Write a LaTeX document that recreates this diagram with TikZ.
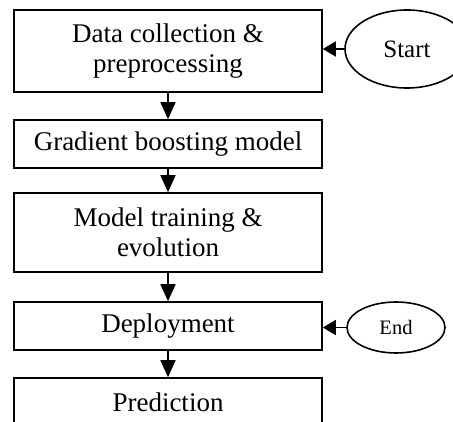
\documentclass[tikz,border=0pt]{standalone}
\usepackage{fontspec}
\setmainfont{Liberation Serif}
\usetikzlibrary{arrows.meta,shapes.geometric}
\begin{document}
\begin{tikzpicture}[x=1pt,y=-1pt,
  box/.style={draw, line width=1.6pt, minimum width=308pt, inner sep=0pt, align=center,
    font=\fontsize{27}{30}\selectfont},
  oval/.style={draw, ellipse, line width=1.6pt, inner sep=0pt},
  arr/.style={line width=1.6pt, -{Triangle[length=17pt,width=15pt]}},
  harr/.style={line width=1.6pt, -{Triangle[length=13pt,width=15pt]}}]
\useasboundingbox (0,0) rectangle (453,422);
\node[box, minimum height=82pt] (b1) at (168,51) {Data collection \&\\preprocessing};
\node[box, minimum height=48pt] (b2) at (168,144) {Gradient boosting model};
\node[box, minimum height=79pt] (b3) at (168,232.5) {Model training \&\\evolution};
\node[box, minimum height=48pt] (b4) at (168,326) {Deployment};
\node[box, minimum height=48pt] (b5) at (168,402) {Prediction};
\node[oval, minimum width=124pt, minimum height=78pt, font=\fontsize{25}{30}\selectfont] (st) at (407,49) {Start};
\node[oval, minimum width=98pt, minimum height=51pt, font=\fontsize{20.5}{24}\selectfont] (en) at (396,327.5) {End};
\draw[arr] (b1) -- (b2);
\draw[arr] (b2) -- (b3);
\draw[arr] (b3) -- (b4);
\draw[arr] (b4) -- (b5);
\draw[harr] (st.west) -- (st.west -| b1.east);
\draw[harr] (en.west) -- (en.west -| b4.east);
\end{tikzpicture}
\end{document}
